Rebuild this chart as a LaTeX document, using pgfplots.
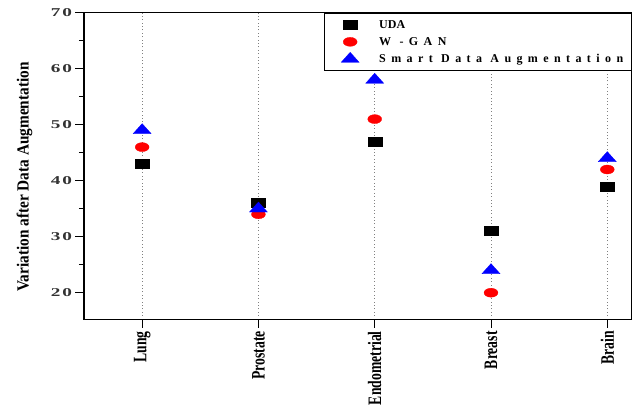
\documentclass[border=0pt]{standalone}
\usepackage{fontspec}
\setmainfont{Liberation Serif}
\newfontfamily\tickfont[FakeStretch=1.6, LetterSpace=15]{Liberation Serif}
\newfontfamily\catfont[FakeStretch=0.72]{Liberation Serif}
\newfontfamily\ylfont[FakeStretch=0.9]{Liberation Serif}
\newfontfamily\legfont[LetterSpace=45]{Liberation Serif}
\usepackage{pgfplots}
\pgfplotsset{compat=1.18}

\pgfplotsset{
  keyimage/.style={
    legend image code/.code={
      \draw[##1] plot coordinates {(0.68cm,0cm)};
      \path[draw=none, fill=none] (0cm,-0.1cm) rectangle (1.63cm,0.1cm);
    }
  }
}

\begin{document}
\begin{tikzpicture}
\begin{axis}[
  scale only axis,
  width=547.7pt, height=306.6pt,
  xmin=-0.5, xmax=4.21,
  ymin=15.25, ymax=70,
  xtick={0,1,2,3,4},
  xticklabels={Lung,Prostate,Endometrial,Breast,Brain},
  ytick={20,30,40,50,60,70},
  minor ytick={25,35,45,55,65},
  tick align=outside,
  xtick pos=bottom, ytick pos=left,
  major tick length=8.5pt, minor tick length=5pt,
  tick style={black, line width=1pt},
  axis line style={black, line width=1.2pt},
  xmajorgrids,
  major grid style={gray, line width=0.8pt, dash pattern=on 0.8pt off 2.6pt},
  /pgf/number format/assume math mode=true,
  yticklabel style={font=\tickfont\bfseries\fontsize{12}{14}\selectfont, text=black!80},
  xticklabel style={rotate=90, anchor=east, font=\catfont\bfseries\fontsize{19}{20}\selectfont},
  ylabel={Variation after Data Augmentation},
  ylabel style={at={(axis description cs:-0.1086,0.464)}, anchor=center,
    font=\ylfont\bfseries\fontsize{17}{18}\selectfont},
  legend style={at={(1,1)}, anchor=north east, draw=black, line width=1pt,
    inner xsep=6pt, inner ysep=5pt, row sep=3.5pt,
    font=\bfseries\fontsize{12}{13}\selectfont},
  legend cell align=left,
]
% UDA
\addplot[only marks, black, mark=square*, mark size=4.5pt,
  mark options={xscale=1.55, fill=black, draw=black, line width=0.3pt}, keyimage]
  coordinates {(0,43) (1,36) (2,47) (3,31) (4,39)};
\addlegendentry{UDA}
% W-GAN
\addplot[only marks, red, mark=*, mark size=4.5pt,
  mark options={xscale=1.55, fill=red, draw=red, line width=0.3pt}, keyimage]
  coordinates {(0,46) (1,34) (2,51) (3,20) (4,42)};
\addlegendentry{\legfont W -GAN}
% Smart Data Augmentation
\addplot[only marks, blue, mark=triangle*, mark size=6.7pt,
  mark options={xscale=1.55, fill=blue, draw=blue, line width=0.3pt}, keyimage]
  coordinates {(0,49) (1,35) (2,58) (3,24) (4,44)};
\addlegendentry{\legfont Smart Data Augmentation}
\end{axis}
\pgfresetboundingbox
\path[use as bounding box] ([xshift=-84pt,yshift=-95.7pt]current axis.south west)
  rectangle ([xshift=7.3pt,yshift=12.7pt]current axis.north east);
\end{tikzpicture}
\end{document}
